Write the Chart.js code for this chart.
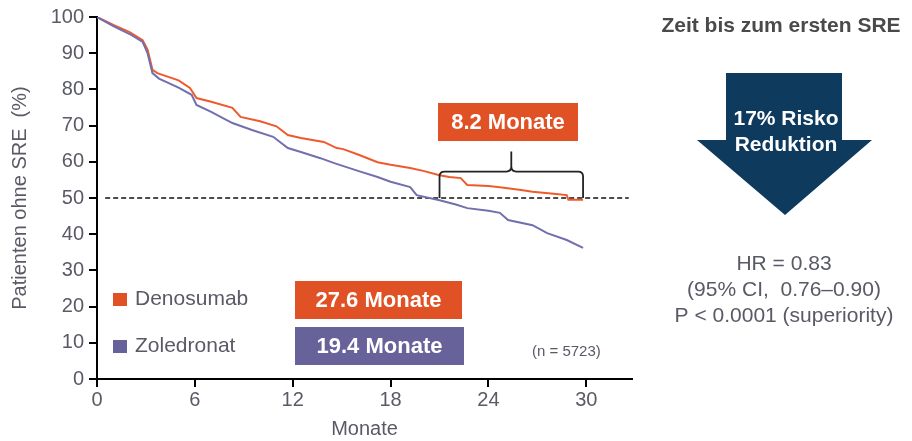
<!DOCTYPE html>
<html>
<head>
<meta charset="utf-8">
<script src="https://cdn.jsdelivr.net/npm/chart.js@4/dist/chart.umd.min.js"></script>
<style>
  html, body { margin: 0; padding: 0; background: #fff; }
  #wrap { width: 912px; height: 441px; position: relative; }
</style>
</head>
<body>
<div id="wrap"><canvas id="km" width="912" height="441"></canvas></div>
<script>
// Kaplan-Meier Kurven
const monthsDeno = [0, 1, 2, 2.8, 3.1, 3.4, 3.7, 5.0, 5.7, 6.1, 7.0, 8.3, 8.8, 10.0, 11.0, 11.7, 12.5, 13.9, 14.7, 15.1, 16.0, 17.2, 18.0, 19.2, 20.0, 21.0, 21.6, 22.3, 22.7, 24.0, 24.7, 26.0, 26.7, 28.0, 28.8, 28.9, 29.8];
const valuesDeno = [100, 97.8, 95.8, 93.6, 91, 85.4, 84.5, 82.5, 80.4, 77.6, 76.6, 74.9, 72.4, 71.2, 69.8, 67.4, 66.6, 65.5, 63.8, 63.5, 62, 59.9, 59.2, 58.3, 57.5, 56.3, 55.8, 55.5, 53.6, 53.3, 53.0, 52.2, 51.7, 51.2, 50.8, 49.5, 49.5];
const monthsZole = [0, 1, 2, 2.8, 3.1, 3.4, 3.8, 5.0, 5.8, 6.1, 7.0, 8.3, 9.5, 10.8, 11.7, 12.5, 13.7, 14.5, 16.0, 17.2, 18.0, 19.2, 19.6, 21.0, 22.0, 22.7, 24.0, 24.7, 25.2, 26.7, 27.6, 28.8, 29.8];
const valuesZole = [100, 97.5, 95.3, 93.1, 90, 84.5, 83, 80.5, 78.5, 75.7, 73.8, 70.7, 68.8, 66.9, 63.8, 62.7, 61.0, 59.7, 57.5, 55.8, 54.5, 53.0, 50.8, 49.4, 48.2, 47.2, 46.5, 45.9, 43.9, 42.5, 40.3, 38.4, 36.2];
const seriesNames = ['Denosumab', 'Zoledronat'];
const medianLabels = ['27.6 Monate', '19.4 Monate'];
const diffLabel = '8.2 Monate';
const bracketMonths = [21.0, 29.8];
const refLine = [0.5, 32.6];   // 50%-Linie von/bis
const sampleText = '(n = 5723)';
const sideTitle = 'Zeit bis zum ersten SRE';
const arrowText = ['17% Risko', 'Reduktion'];
const statLines = ['HR = 0.83', '(95% CI,  0.76\u20130.90)', 'P < 0.0001 (superiority)'];

const ORANGE = '#EE5A2C', ORANGE_BOX = '#E05226';
const PURPLE = '#726FAE', PURPLE_BOX = '#67639A';
const NAVY = '#0E3A5E';
const GREY = '#595a66';
const FONT = '"Liberation Sans", Arial, sans-serif';

const toXY = (xs, ys) => xs.map((x, i) => ({ x: x, y: ys[i] }));

const extras = {
    id: 'extras',
    afterDraw(chart) {
        const ctx = chart.ctx;
        const xs = chart.scales.x, ys = chart.scales.y;
        ctx.save();

        // Klammer für den Unterschied der Mediane
        const bx0 = xs.getPixelForValue(bracketMonths[0]);
        const bx1 = xs.getPixelForValue(bracketMonths[1]);
        const by0 = ys.getPixelForValue(50);
        const byTop = ys.getPixelForValue(57.3);
        const bmid = (bx0 + bx1) / 2;
        const r = 5;
        ctx.strokeStyle = '#222';
        ctx.lineWidth = 1.8;
        ctx.beginPath();
        ctx.moveTo(bx0, by0);
        ctx.lineTo(bx0, byTop + r);
        ctx.quadraticCurveTo(bx0, byTop, bx0 + r, byTop);
        ctx.lineTo(bmid - r, byTop);
        ctx.quadraticCurveTo(bmid, byTop, bmid, byTop - r);
        ctx.lineTo(bmid, byTop - 20);
        ctx.moveTo(bmid, byTop - r);
        ctx.quadraticCurveTo(bmid, byTop, bmid + r, byTop);
        ctx.lineTo(bx1 - r, byTop);
        ctx.quadraticCurveTo(bx1, byTop, bx1, byTop + r);
        ctx.lineTo(bx1, by0);
        ctx.stroke();

        const box = (x, y, w, h, fill, text, size) => {
            ctx.fillStyle = fill;
            ctx.fillRect(x, y, w, h);
            ctx.fillStyle = '#fff';
            ctx.font = 'bold ' + size + 'px ' + FONT;
            ctx.textAlign = 'center';
            ctx.textBaseline = 'middle';
            ctx.fillText(text, x + w / 2, y + h / 2 + 1);
        };
        box(438, 103, 140, 38, ORANGE_BOX, diffLabel, 22);
        box(295, 281, 167, 38, ORANGE_BOX, medianLabels[0], 22);
        box(295, 327, 169, 38, PURPLE_BOX, medianLabels[1], 22);

        // Legende
        const cols = [ORANGE_BOX, PURPLE_BOX];
        [299, 346].forEach((y, i) => {
            ctx.fillStyle = cols[i];
            ctx.fillRect(113, y - 6, 14, 13);
            ctx.fillStyle = GREY;
            ctx.font = '21px ' + FONT;
            ctx.textAlign = 'left';
            ctx.textBaseline = 'middle';
            ctx.fillText(seriesNames[i], 135, y);
        });

        ctx.font = '15px ' + FONT;
        ctx.textAlign = 'left';
        ctx.fillStyle = GREY;
        ctx.fillText(sampleText, 532, 352);

        // rechte Seite
        ctx.fillStyle = '#4a4a4a';
        ctx.font = 'bold 21px ' + FONT;
        ctx.textAlign = 'center';
        ctx.fillText(sideTitle, 781, 26);

        ctx.fillStyle = NAVY;
        ctx.beginPath();
        ctx.moveTo(726, 73);
        ctx.lineTo(842, 73);
        ctx.lineTo(842, 140);
        ctx.lineTo(872, 140);
        ctx.lineTo(785, 215);
        ctx.lineTo(697, 140);
        ctx.lineTo(726, 140);
        ctx.closePath();
        ctx.fill();
        ctx.fillStyle = '#fff';
        ctx.font = 'bold 21px ' + FONT;
        ctx.fillText(arrowText[0], 786, 119);
        ctx.fillText(arrowText[1], 786, 145);

        ctx.fillStyle = GREY;
        ctx.font = '21px ' + FONT;
        statLines.forEach((t, i) => ctx.fillText(t, 784, 264 + i * 26));
        ctx.restore();
    }
};

new Chart(document.getElementById('km'), {
    type: 'line',
    data: {
        datasets: [
            {
                label: seriesNames[1],
                data: toXY(monthsZole, valuesZole),
                borderColor: PURPLE,
                borderWidth: 2,
                pointRadius: 0,
                tension: 0
            },
            {
                label: seriesNames[0],
                data: toXY(monthsDeno, valuesDeno),
                borderColor: ORANGE,
                borderWidth: 2,
                pointRadius: 0,
                tension: 0
            },
            {
                label: '50%',
                data: toXY(refLine, [50, 50]),
                borderColor: '#111',
                borderWidth: 1.5,
                borderDash: [5, 3],
                pointRadius: 0
            }
        ]
    },
    options: {
        responsive: false,
        animation: false,
        layout: { padding: { left: 0, right: 280, top: 17, bottom: 0 } },
        plugins: { legend: { display: false }, tooltip: { enabled: false } },
        scales: {
            x: {
                type: 'linear',
                min: 0,
                max: 32.8,
                afterFit: s => { s.height = 62; },
                ticks: { stepSize: 6, includeBounds: false, color: GREY, font: { family: FONT, size: 20 }, padding: 1 },
                grid: { drawOnChartArea: false, tickLength: 8, color: '#000', lineWidth: 2 },
                border: { color: '#000', width: 2 },
                title: { display: true, text: 'Monate', color: GREY, font: { family: FONT, size: 20 }, padding: { top: 0, bottom: 0 } }
            },
            y: {
                min: 0,
                max: 100,
                afterFit: s => { s.width = 97; },
                ticks: { stepSize: 10, color: GREY, font: { family: FONT, size: 20 }, padding: 5 },
                grid: { drawOnChartArea: false, tickLength: 8, color: '#000', lineWidth: 2 },
                border: { color: '#000', width: 2 },
                title: { display: true, text: 'Patienten ohne SRE  (%)', color: GREY, font: { family: FONT, size: 20 }, padding: { top: 8, bottom: 0 } }
            }
        }
    },
    plugins: [extras]
});
</script>
</body>
</html>
